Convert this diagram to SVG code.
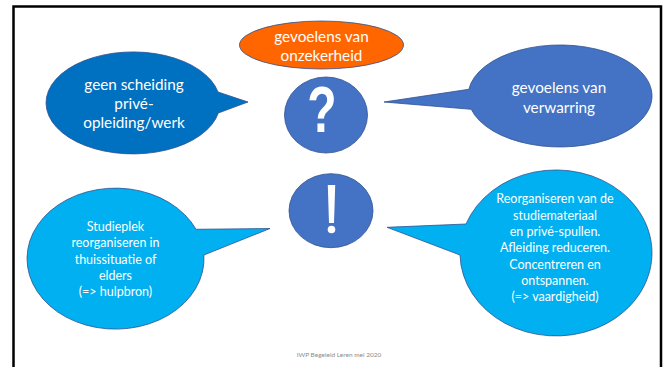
<svg xmlns="http://www.w3.org/2000/svg" width="667" height="367" viewBox="0 0 667 367">
<style>
.t{font-family:Lato,"Liberation Sans",sans-serif;fill:#ffffff;text-anchor:middle}
.big{font-size:15.3px}
.sm{font-size:12.5px}
.sh{stroke:#2f528f;stroke-width:0.8}
</style>
<rect x="0" y="0" width="667" height="367" fill="#ffffff"/>
<rect x="13.5" y="6.5" width="647.5" height="380" fill="none" stroke="#000000" stroke-width="2.5"/>
<g id="connectors"></g>
<g id="onzekerheid">
<ellipse cx="321.5" cy="45" rx="82" ry="24" fill="#ff6600" class="sh"/>
<text class="t big" x="321.5" y="41.5">gevoelens van</text>
<text class="t big" x="321.5" y="61">onzekerheid</text>
</g>
<g id="scheiding">
<path d="M218,92 A87,51 0 1 0 218.3,113 L248,102 Z" fill="#0070c0" class="sh"/>
<text class="t big" x="134" y="89.5">geen scheiding</text>
<text class="t big" x="134" y="108.5">privé-</text>
<text class="t big" x="134" y="128">opleiding/werk</text>
</g>
<g id="vraag">
<ellipse cx="326" cy="115" rx="41.5" ry="38" fill="#4472c4" class="sh"/>
<text x="0" y="0" transform="translate(322,132) scale(0.75,1)" font-family="Liberation Sans,sans-serif" font-weight="bold" font-size="64" fill="#ffffff" text-anchor="middle">?</text>
</g>
<g id="verwarring">
<path d="M468.8,89.3 A92,51 0 1 1 471.2,109.3 L384,102 Z" fill="#4472c4" class="sh"/>
<text class="t big" x="559" y="92.5">gevoelens van</text>
<text class="t big" x="559" y="112.5">verwarring</text>
</g>
<g id="uitroep">
<ellipse cx="331" cy="210.7" rx="42" ry="37" fill="#4472c4" class="sh"/>
<path d="M327.8,185 L335.2,185 L334,223 L329,223 Z" fill="#ffffff"/>
<circle cx="331.5" cy="229.5" r="3.8" fill="#ffffff"/>
</g>
<g id="studieplek">
<path d="M196,229.3 A88.5,70.5 0 1 0 203.9,255 L270,228.5 Z" fill="#00b0f0" class="sh"/>
<text class="t sm" x="115.5" y="231">Studieplek</text>
<text class="t sm" x="115.5" y="247.3">reorganiseren in</text>
<text class="t sm" x="115.5" y="263.6">thuissituatie of</text>
<text class="t sm" x="115.5" y="279.9">elders</text>
<text class="t sm" x="115.5" y="296.2">(=&gt; hulpbron)</text>
</g>
<g id="reorganiseren">
<path d="M466,224 A96,83 0 1 1 460,255 L387,227.3 Z" fill="#00b0f0" class="sh"/>
<text class="t sm" x="555" y="203.3">Reorganiseren van de</text>
<text class="t sm" x="555" y="219.6">studiemateriaal</text>
<text class="t sm" x="555" y="235.9">en privé-spullen.</text>
<text class="t sm" x="555" y="252.2">Afleiding reduceren.</text>
<text class="t sm" x="555" y="268.5">Concentreren en</text>
<text class="t sm" x="555" y="284.8">ontspannen.</text>
<text class="t sm" x="555" y="301.1">(=&gt; vaardigheid)</text>
</g>
<text x="339" y="357" font-family="Lato,'Liberation Sans',sans-serif" font-size="6.5" fill="#8c8c8c" text-anchor="middle">IWP Begeleid Leren mei 2020</text>
</svg>
